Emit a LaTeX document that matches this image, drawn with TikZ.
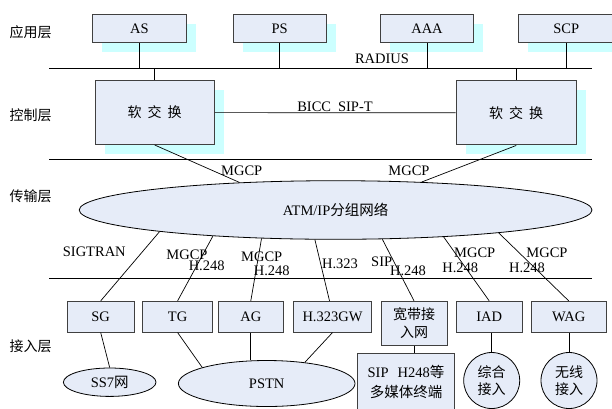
\documentclass[tikz,border=0pt]{standalone}
\usepackage{fontspec}
\setmainfont{Liberation Serif}
\newfontfamily\cjk{Noto Sans CJK SC}
\usetikzlibrary{shapes.geometric,shadows,calc}
\definecolor{boxfill}{RGB}{230,236,248}
\definecolor{shade}{RGB}{204,255,255}
\definecolor{edge}{RGB}{64,64,64}
\begin{document}
\begin{tikzpicture}[x=1pt,y=-1pt,
  every node/.style={font=\fontsize{14.5}{17}\selectfont},
  tbox/.style={draw=edge, line width=1pt, fill=boxfill, inner sep=0pt, align=center},
  shbox/.style={tbox, drop shadow={shadow xshift=9.5pt, shadow yshift=-9.5pt, fill=shade, opacity=1}},
  ell/.style={ellipse, draw=black, line width=0.8pt, fill=boxfill, inner sep=0pt, align=center},
  circ/.style={circle, draw=black, line width=0.8pt, fill=boxfill, inner sep=0pt, align=center, minimum size=56pt},
  lbl/.style={inner sep=0pt},
  cj/.style={font=\fontsize{14}{18}\selectfont\cjk},
  wire/.style={draw=black, line width=0.7pt},
  layer/.style={draw=black, line width=1pt}]
\useasboundingbox (0,0) rectangle (612,408);

% layer labels
\node[lbl, cj] (Lapp) at (30.7,32.3) {应用层};
\node[lbl, cj] (Lctl) at (30.7,115) {控制层};
\node[lbl, cj] (Ltr) at (30.7,196.7) {传输层};
\node[lbl, cj] (Lacc) at (30.7,346.3) {接入层};

% layer lines
\coordinate (L1w) at (49.3,68.3);  \coordinate (L1e) at (592,68.3);
\coordinate (L2w) at (49.3,159.3); \coordinate (L2e) at (592,159.3);
\coordinate (L3w) at (49.3,278.8); \coordinate (L3e) at (592,278.8);
\draw[layer] (L1w) -- (L1e);
\draw[layer] (L2w) -- (L2e);
\draw[layer] (L3w) -- (L3e);

% application layer
\node[shbox, minimum width=93.3pt, minimum height=28pt] (AS) at (139.4,28.7) {AS};
\node[shbox, minimum width=93.3pt, minimum height=28pt] (PS) at (279.7,28.7) {PS};
\node[shbox, minimum width=93.3pt, minimum height=28pt] (AAA) at (427,28.7) {AAA};
\node[shbox, minimum width=96pt, minimum height=28pt] (SCP) at (566.3,28.7) {SCP};
\node[lbl] (radius) at (382,58.7) {RADIUS};

% control layer
\node[shbox, cj, minimum width=119.4pt, minimum height=63.8pt] (SS1) at (154.7,112.6) {软\hspace{6pt}交\hspace{6pt}换};
\node[shbox, cj, minimum width=120.3pt, minimum height=64.3pt] (SS2) at (516.2,112.8) {软\hspace{6pt}交\hspace{6pt}换};
\node[lbl] (bicc) at (335,106.7) {BICC\hspace{7pt}SIP-T};

\draw[wire] (AS.south) -- (AS.south |- L1w);
\draw[wire] (PS.south) -- (PS.south |- L1w);
\draw[wire] (AAA.south) -- (AAA.south |- L1w);
\draw[wire] (SCP.south) -- (SCP.south |- L1w);
\draw[wire] (SS1.north) -- (SS1.north |- L1w);
\draw[wire] (SS2.north) -- (SS2.north |- L1w);
\draw[wire] (SS1.east) -- (SS2.west);

% transport layer
\node[ell, minimum width=512.8pt, minimum height=58.6pt] (NET) at (335.6,210) {ATM/IP{\cjk 分组网络}};
\draw[wire] (SS1.south) -- (NET.164.7);
\draw[wire] (SS2.south) -- (NET.18.96);
\node[lbl] (mg1) at (241.7,170.7) {MGCP};
\node[lbl] (mg2) at (409,170.7) {MGCP};

% access layer boxes
\node[tbox, minimum width=66.7pt, minimum height=30.7pt] (SG) at (100.7,316.7) {SG};
\node[tbox, minimum width=69.8pt, minimum height=30.7pt] (TG) at (177.6,316.7) {TG};
\node[tbox, minimum width=65pt, minimum height=30.7pt] (AG) at (250.8,316.7) {AG};
\node[tbox, minimum width=78.4pt, minimum height=30.7pt] (GW) at (332.5,316.7) {H.323GW};
\node[tbox, cj, minimum width=66pt, minimum height=44pt] (BB) at (414,323.3) {宽带接\\入网};
\node[tbox, minimum width=65.7pt, minimum height=30.7pt] (IAD) at (489.2,316.7) {IAD};
\node[tbox, minimum width=75.3pt, minimum height=30.7pt] (WAG) at (568.7,316.7) {WAG};

% connectors from network to access
\draw[wire] (NET.187.8) -- (SG.north);
\draw[wire] (NET.192.9) -- (TG.north);
\draw[wire] (NET.201.3) -- (AG.north);
\draw[wire] (NET.235.9) -- ($(GW.north)+(-3,0)$);
\draw[wire] (NET.328.2) -- (BB.north);
\draw[wire] (NET.346.8) -- (IAD.north);
\draw[wire] (NET.352.06) -- (WAG.north);

% protocol labels
\node[lbl] (sigtran) at (94.3,251.7) {SIGTRAN};
\node[lbl] (tgm) at (187,255) {MGCP};
\node[lbl] (tgh) at (206.7,266) {H.248};
\node[lbl] (agm) at (261.7,256.7) {MGCP};
\node[lbl] (agh) at (271.7,270.7) {H.248};
\node[lbl] (h323) at (340,263.3) {H.323};
\node[lbl] (sip) at (381.7,261.7) {SIP};
\node[lbl] (siph) at (408,270.7) {H.248};
\node[lbl] (iadm) at (474.7,252.7) {MGCP};
\node[lbl] (iadh) at (460.3,267.3) {H.248};
\node[lbl] (wagm) at (547,252.7) {MGCP};
\node[lbl] (wagh) at (527,267.3) {H.248};

% bottom terminals
\node[ell, minimum width=92.6pt, minimum height=28.4pt] (SS7) at (109.7,382.2) {SS7{\cjk 网}};
\node[ell, minimum width=176.6pt, minimum height=46pt] (PSTN) at (266.7,383.5) {PSTN};
\node[tbox, minimum width=97pt, minimum height=57pt, font=\fontsize{14.5}{20}\selectfont] (TERM) at (406,381.7) {SIP\hspace{9pt}H248{\cjk 等}\\{\cjk 多媒体终端}};
\node[circ, font=\fontsize{14}{17}\selectfont\cjk] (ZH) at (491.7,380.5) {综合\\接入};
\node[circ, font=\fontsize{14}{17}\selectfont\cjk] (WX) at (569,380.5) {无线\\接入};

\draw[wire] (SG.south) -- (SS7.north);
\draw[wire] (TG.south) -- (PSTN.166.9);
\draw[wire] (AG.south) -- (AG.south |- PSTN.north);
\draw[wire] (GW.south) -- (PSTN.29.7);
\draw[wire] (BB.south) -- (BB.south |- TERM.north);
\draw[wire] (ZH.north) -- (ZH.north |- IAD.south);
\draw[wire] (WX.north) -- (WX.north |- WAG.south);
\end{tikzpicture}
\end{document}
